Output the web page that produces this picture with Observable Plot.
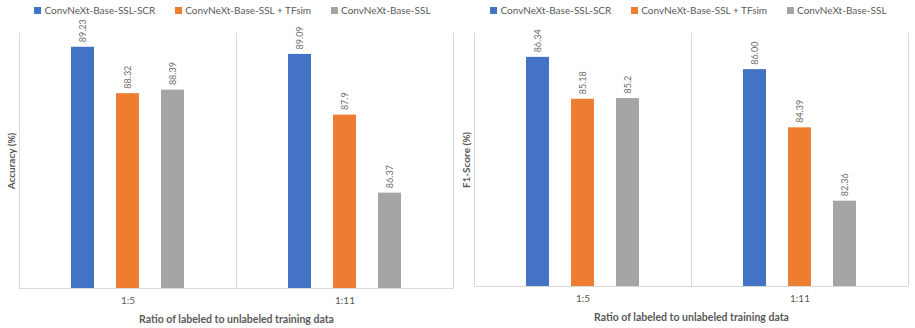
<!DOCTYPE html>
<html><head><meta charset="utf-8">
<script src="https://cdn.jsdelivr.net/npm/d3@7"></script>
<script src="https://cdn.jsdelivr.net/npm/@observablehq/plot@0.6"></script>
<style>
body{margin:0;background:#fff;font-family:Lato,"Open Sans",sans-serif;}
#wrap{position:relative;width:915px;height:328px;overflow:hidden;}
.panel{position:absolute;top:0;height:328px;}
.legend{position:absolute;top:0;left:0;right:0;height:20px;display:flex;justify-content:center;align-items:center;gap:20px;font-size:10px;color:#595959;z-index:2;}
.legend .it{display:flex;align-items:center;}
.legend .sw{display:inline-block;width:7px;height:7px;margin-right:3px;}
svg{display:block;}
</style></head><body>
<div id="wrap"></div>
<script>
const ratios = ["1:5", "1:11"];
const series = ["ConvNeXt-Base-SSL-SCR", "ConvNeXt-Base-SSL + TFsim", "ConvNeXt-Base-SSL"];
const colors = ["#4472C4", "#ED7D31", "#A5A5A5"];
// values per series, in ratio order
const accSCR = [89.23, 89.09];
const accTFsim = [88.32, 87.9];
const accSSL = [88.39, 86.37];
const accLabels = [["89.23", "89.09"], ["88.32", "87.9"], ["88.39", "86.37"]];
const f1SCR = [86.34, 86.00];
const f1TFsim = [85.18, 84.39];
const f1SSL = [85.2, 82.36];
const f1Labels = [["86.34", "86.00"], ["85.18", "84.39"], ["85.2", "82.36"]];
const accDomain = [84.5, 89.5];
const f1Domain = [80, 87];
const xTitle = "Ratio of labeled to unlabeled training data";
const FONT = "Lato, 'Open Sans', sans-serif";

function legend(padLeft) {
  const d = document.createElement("div");
  d.className = "legend";
  d.style.paddingLeft = padLeft + "px";
  series.forEach((s, i) => {
    const it = document.createElement("div"); it.className = "it";
    const sw = document.createElement("span"); sw.className = "sw"; sw.style.background = colors[i];
    it.appendChild(sw); it.appendChild(document.createTextNode(s));
    d.appendChild(it);
  });
  return d;
}

function panel(values, labels, domain, yLabel, o) {
  const data = [];
  ratios.forEach((r, i) => series.forEach((s, j) => data.push({ratio: r, series: s, value: values[j][i], label: labels[j][i]})));
  return Plot.plot({
    width: o.width, height: 328,
    marginTop: 33, marginBottom: o.mb, marginLeft: o.ml, marginRight: o.mr,
    style: {fontFamily: FONT, fontSize: "10px", color: "#595959", background: "white"},
    fx: {domain: ratios, padding: 0},
    x: {domain: series, axis: null, paddingInner: 0.49, paddingOuter: 1.156},
    y: {domain},
    color: {domain: series, range: colors},
    marks: [
      Plot.frame({anchor: "left", stroke: "#D9D9D9"}),
      Plot.frame({anchor: "right", stroke: "#D9D9D9"}),
      Plot.frame({anchor: "bottom", stroke: "#D9D9D9"}),
      Plot.barY(data, {fx: "ratio", x: "series", y1: domain[0], y2: "value", fill: "series"}),
      Plot.text(data, {fx: "ratio", x: "series", y: "value", text: "label", rotate: -90, textAnchor: "start", dy: -5, fontSize: 9, fill: "#6B6B6B"}),
      Plot.axisY({ticks: [], tickSize: 0, label: yLabel, labelAnchor: "center", labelArrow: "none", labelOffset: 12, fontWeight: "bold", fontSize: 10}),
      Plot.axisFx({anchor: "bottom", tickSize: 0, tickPadding: 8, label: null, fontSize: 10}),
      Plot.axisFx({anchor: "bottom", ticks: [], tickSize: 0, label: xTitle, labelAnchor: "center", labelArrow: "none", labelOffset: 34, fontWeight: "bold", fontSize: 10.5})
    ]
  });
}

const wrap = document.getElementById("wrap");
const left = document.createElement("div"); left.className = "panel"; left.style.left = "0px"; left.style.width = "457px";
left.appendChild(panel([accSCR, accTFsim, accSSL], accLabels, accDomain, "Accuracy (%)", {width: 457, ml: 19, mr: 4, mb: 40}));
left.appendChild(legend(8));
const right = document.createElement("div"); right.className = "panel"; right.style.left = "457px"; right.style.width = "458px";
right.appendChild(panel([f1SCR, f1TFsim, f1SSL], f1Labels, f1Domain, "F1-Score (%)", {width: 458, ml: 17, mr: 7, mb: 42}));
right.appendChild(legend(5));
wrap.appendChild(left); wrap.appendChild(right);
</script>
</body></html>
